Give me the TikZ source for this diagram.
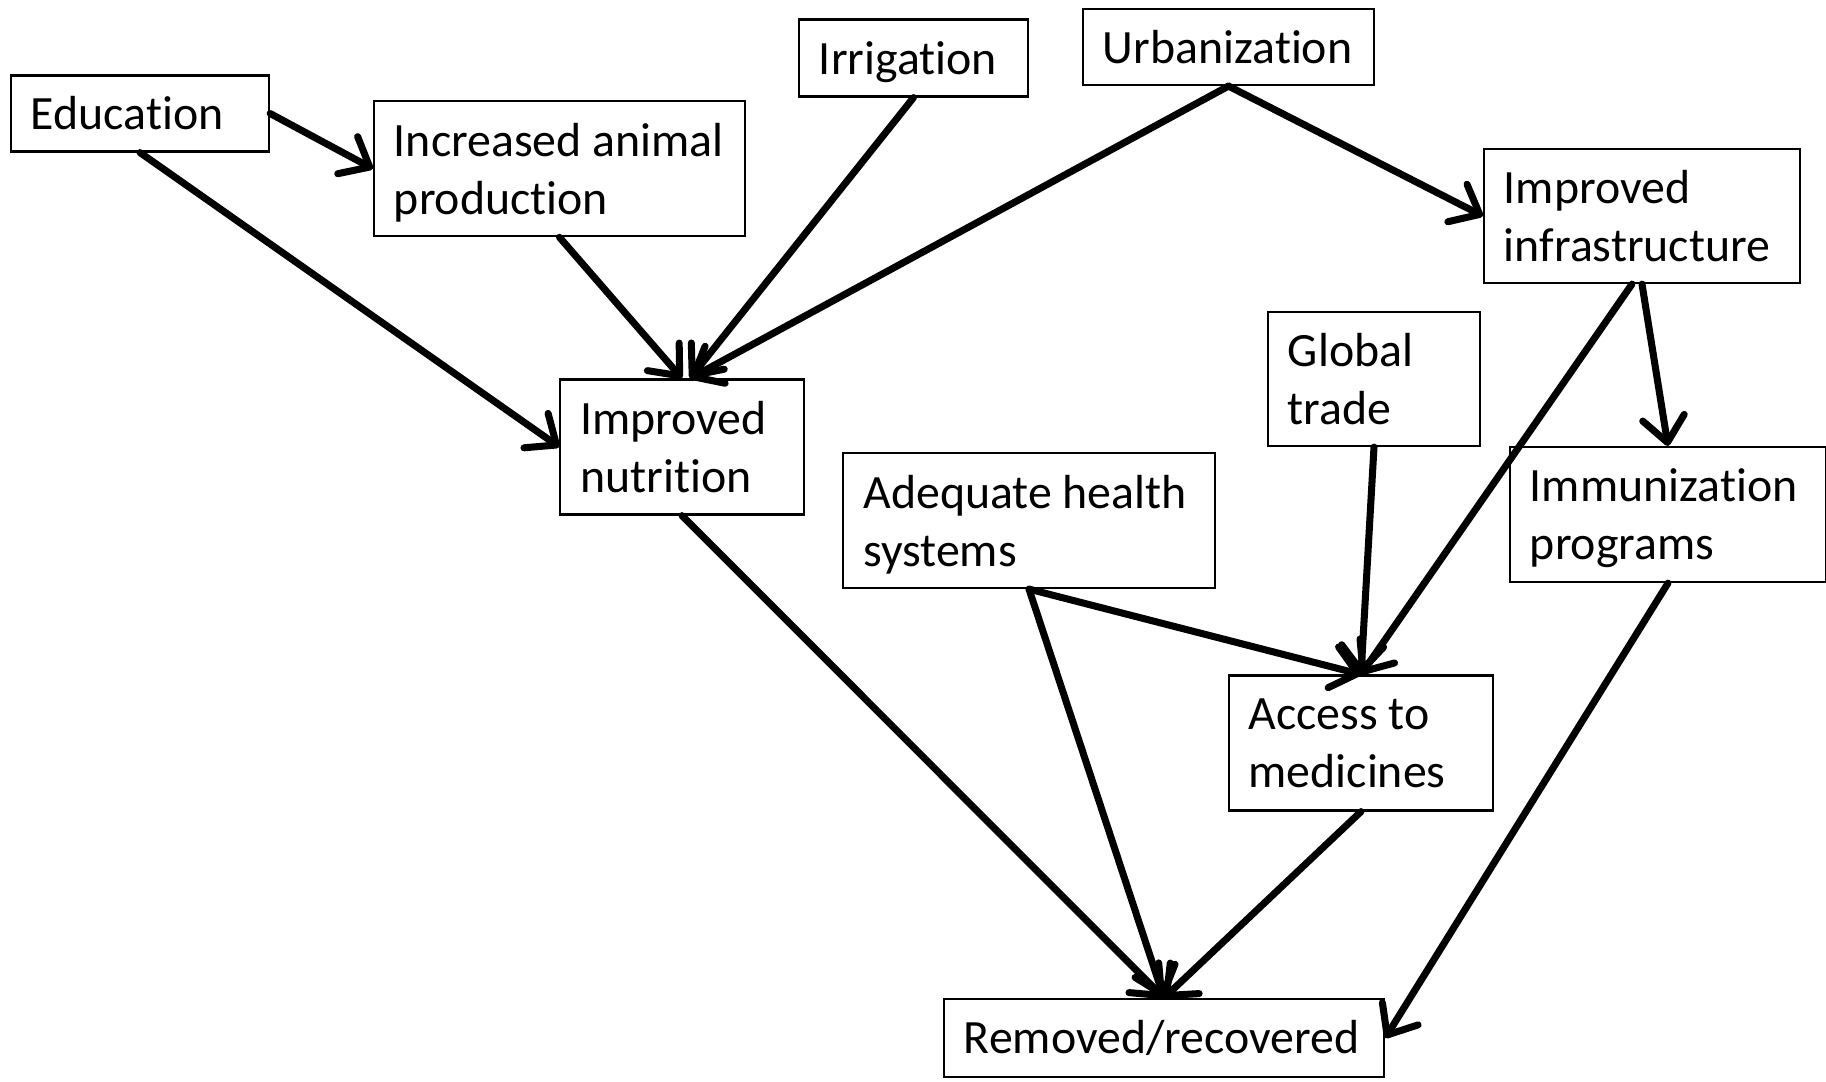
\documentclass[tikz,border=0pt]{standalone}
\usepackage{fontspec}
\setmainfont{Carlito}[Ligatures={NoCommon,NoContextual}]
\usetikzlibrary{arrows.meta}
\newcommand{\flatline}[1]{\raisebox{0pt}[\height][0pt]{#1}}

\begin{document}
\begin{tikzpicture}[
				x=0.01cm,y=-0.01cm,
				factor/.style={draw,rectangle,line width=0.6pt,inner xsep=0.2cm,inner ysep=0pt,align=flush left,font=\fontsize{13.6}{16.5}\selectfont},
				link/.style={-{Straight Barb[round,length=2.5mm,width=4.2mm]},line width=2pt,line cap=round}
				]
				\useasboundingbox (0,0) rectangle (1826,1081);
				
				% Fattori
				\node[factor,text width=2.18cm,minimum height=0.76cm] (edu) at (140,113.5) {Education};
				\node[factor,text width=3.31cm,minimum height=1.35cm] (prod) at (559.5,168.7) {Increased animal\\\flatline{production}};
				\node[factor,text width=1.89cm,minimum height=0.77cm] (irr) at (913.5,58) {\flatline{Irrigation}};
				\node[factor,text width=2.51cm,minimum height=0.76cm] (urb) at (1228.5,47) {Urbanization};
				\node[factor,text width=2.76cm,minimum height=1.34cm] (infra) at (1642,216) {Improved\\infrastructure};
				\node[factor,text width=1.72cm,minimum height=1.34cm] (trade) at (1374,379) {Global\\trade};
				\node[factor,text width=2.03cm,minimum height=1.35cm] (nutr) at (682,447) {Improved\\nutrition};
				\node[factor,text width=3.31cm,minimum height=1.35cm] (health) at (1029,520.5) {Adequate health\\\flatline{systems}};
				\node[factor,text width=2.76cm,minimum height=1.35cm] (immu) at (1668,514.5) {Immunization\\\flatline{programs}};
				\node[factor,text width=2.245cm,minimum height=1.35cm] (med) at (1361,743) {Access to\\medicines};
				\node[factor,text width=4.00cm,minimum height=0.78cm] (rem) at (1164,1038) {Removed/recovered};
				
				% Collegamenti
				\draw[link] (edu.east) -- (prod.west);
				\draw[link] (edu.south) -- (nutr.west);
				\draw[link] (prod.south) -- (nutr.north);
				\draw[link] (irr.south) -- ([xshift=0.08cm]nutr.north);
				\draw[link] (urb.south) -- ([xshift=0.08cm]nutr.north);
				\draw[link] (urb.south) -- (infra.west);
				\draw[link] (infra.south) -- (immu.north);
				\draw[link] ([xshift=-0.1cm]infra.south) -- (med.north);
				\draw[link] (trade.south) -- (med.north);
				\draw[link] (health.south) -- (med.north);
				\draw[link] (health.south) -- (rem.north);
				\draw[link] (nutr.south) -- (rem.north);
				\draw[link] (med.south) -- (rem.north);
				\draw[link] (immu.south) -- (rem.east);
				
			\end{tikzpicture}
\end{document}
